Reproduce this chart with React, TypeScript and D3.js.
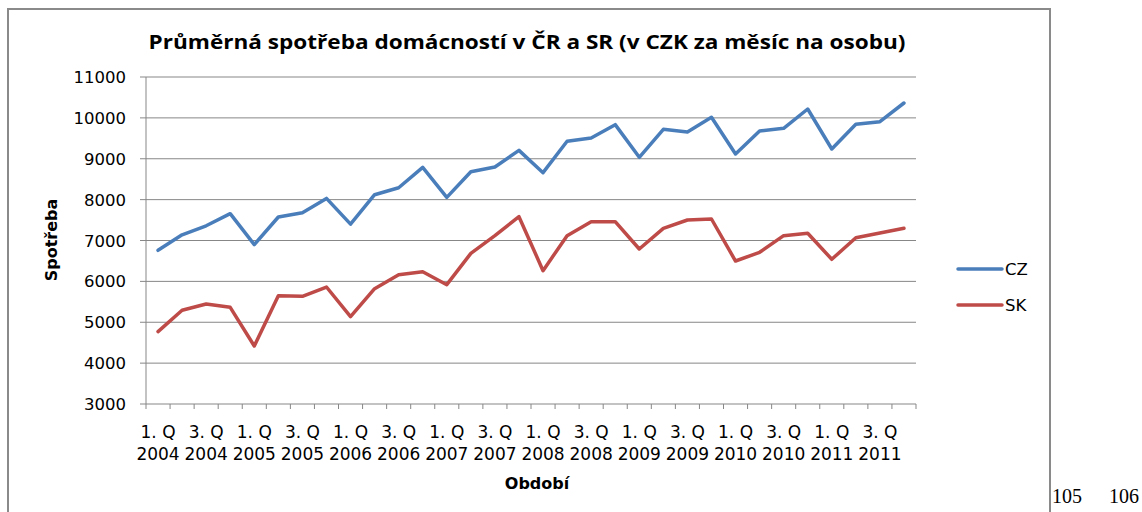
import React from "react";
import * as d3 from "d3";

const years = [2004, 2005, 2006, 2007, 2008, 2009, 2010, 2011];
const quarters = [1, 2, 3, 4];
const categories: string[] = years.flatMap((y) => quarters.map((q) => `${q}. Q ${y}`));

const czValues = [
  6760, 7140, 7360, 7656, 6900, 7575, 7680, 8030,
  7400, 8120, 8290, 8790, 8056, 8683, 8798, 9205,
  8659, 9427, 9508, 9834, 9035, 9720, 9654, 10014,
  9116, 9679, 9744, 10217, 9238, 9843, 9907, 10364,
];
const skValues = [
  4770, 5292, 5446, 5365, 4419, 5650, 5634, 5862,
  5136, 5821, 6164, 6237, 5919, 6686, 7118, 7583,
  6262, 7118, 7461, 7461, 6792, 7298, 7502, 7526,
  6498, 6711, 7118, 7176, 6540, 7069, 7183, 7298,
];
const yTicks = [3000, 4000, 5000, 6000, 7000, 8000, 9000, 10000, 11000];
const seriesNames = ["CZ", "SK"];
const seriesColors = ["#4a7ebb", "#be4b48"];
const title = "Průměrná spotřeba domácností v ČR a SR (v CZK za měsíc na osobu)";
const xTitle = "Období";
const yTitle = "Spotřeba";
const pageNumbers = ["105", "106"];

const W = 1142;
const H = 512;
const plot = { left: 146, right: 916, top: 77, bottom: 404 };
const FONT = "'DejaVu Sans', sans-serif";

export default function App() {
  const x = d3.scaleBand<string>().domain(categories).range([plot.left, plot.right]).padding(0);
  const y = d3.scaleLinear().domain([3000, 11000]).range([plot.bottom, plot.top]);
  const cx = (c: string) => (x(c) as number) + x.bandwidth() / 2;
  const line = d3
    .line<number>()
    .x((_, i) => cx(categories[i]))
    .y((d) => y(d));
  const series = [czValues, skValues];
  const grid = "#878787";

  return (
    <svg
      width={W}
      height={H}
      style={{ position: "absolute", left: 0, top: 0, background: "#fff" }}
      fontFamily={FONT}
    >
      <rect x={0} y={0} width={W} height={H} fill="#fff" />
      {/* chart border */}
      <path d={`M8,${H + 2} V9 H1050 V${H + 2}`} fill="none" stroke="#8a8a8a" strokeWidth={2} />

      {/* title */}
      <text
        x={527}
        y={49}
        textAnchor="middle"
        fontWeight="bold"
        fontSize={20}
        textLength={757}
        lengthAdjust="spacingAndGlyphs"
        fill="#000"
        fontFamily="'Open Sans', sans-serif"
      >
        {title}
      </text>

      {/* gridlines */}
      {yTicks.map((t) => (
        <line key={t} x1={plot.left - 6} x2={plot.right} y1={y(t)} y2={y(t)} stroke={grid} strokeWidth={1} />
      ))}
      {/* y axis */}
      <line x1={plot.left} x2={plot.left} y1={plot.top} y2={plot.bottom} stroke={grid} strokeWidth={1} />
      {yTicks.map((t) => (
        <text key={`yl${t}`} x={126} y={y(t) + 6} textAnchor="end" fontSize={16.5} fill="#000">
          {t}
        </text>
      ))}

      {/* x ticks */}
      {categories.map((c) => (
        <line
          key={`xt${c}`}
          x1={x(c) as number}
          x2={x(c) as number}
          y1={plot.bottom}
          y2={plot.bottom + 5}
          stroke={grid}
        />
      ))}
      <line x1={plot.right} x2={plot.right} y1={plot.bottom} y2={plot.bottom + 5} stroke={grid} />

      {/* x labels */}
      {categories.map((c, i) =>
        i % 2 === 0 ? (
          <text key={`xl${c}`} textAnchor="middle" fontSize={17} fill="#000">
            <tspan x={cx(c)} y={438}>
              {c.split(" ").slice(0, 2).join(" ")}
            </tspan>
            <tspan x={cx(c)} y={460}>
              {c.split(" ")[2]}
            </tspan>
          </text>
        ) : null
      )}

      {/* axis titles */}
      <text x={537} y={489} textAnchor="middle" fontWeight="bold" fontSize={16} fill="#000">
        {xTitle}
      </text>
      <text
        transform="translate(57,240) rotate(-90)"
        textAnchor="middle"
        fontWeight="bold"
        fontSize={16}
        fill="#000"
      >
        {yTitle}
      </text>

      {/* series lines */}
      {series.map((vals, si) => (
        <path
          key={seriesNames[si]}
          d={line(vals) as string}
          fill="none"
          stroke={seriesColors[si]}
          strokeWidth={3.5}
          strokeLinejoin="round"
          strokeLinecap="round"
        />
      ))}

      {/* legend */}
      {seriesNames.map((n, i) => (
        <g key={`lg${n}`} transform={`translate(0,${269 + i * 36})`}>
          <line x1={958} x2={1002} y1={0} y2={0} stroke={seriesColors[i]} strokeWidth={3.5} strokeLinecap="round" />
          <text x={1005} y={6} fontSize={16.5} fill="#000">
            {n}
          </text>
        </g>
      ))}

      {/* page numbers */}
      <text x={1052} y={503} fontFamily="'Liberation Serif', serif" fontSize={20} fill="#000">
        {pageNumbers[0]}
      </text>
      <text x={1109} y={503} fontFamily="'Liberation Serif', serif" fontSize={20} fill="#000">
        {pageNumbers[1]}
      </text>
    </svg>
  );
}
